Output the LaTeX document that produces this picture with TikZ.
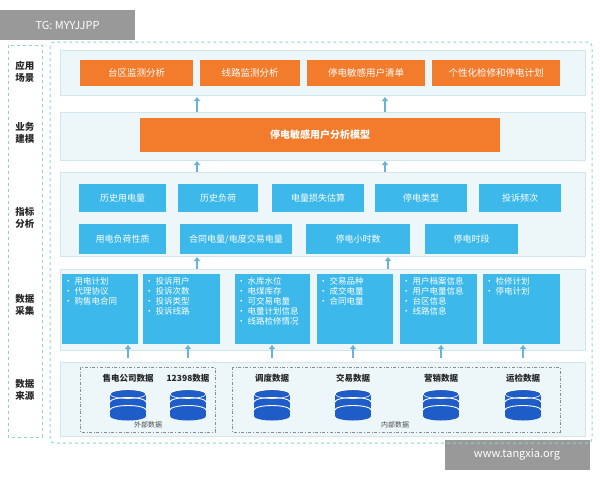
\documentclass[tikz,border=0pt]{standalone}
\usepackage{fontspec}
\setmainfont{Noto Sans CJK SC}
\usetikzlibrary{arrows.meta}
\definecolor{org}{HTML}{F27B2C}
\definecolor{blu}{HTML}{3CB8EA}
\definecolor{pan}{HTML}{EDF6F8}
\definecolor{panb}{HTML}{D2E7EC}
\definecolor{teal}{HTML}{8DD3D3}
\definecolor{dbb}{HTML}{1E5CC8}
\definecolor{arr}{HTML}{6AB2D8}
\begin{document}
\begin{tikzpicture}[x=1pt,y=-1pt,
 panel/.style={draw=panb,fill=pan},
 obox/.style={draw=none,fill=org,text=white,font=\fontsize{9.5}{10}\selectfont},
 bbox/.style={draw=none,fill=blu,text=white,font=\fontsize{9}{10}\selectfont},
 lbl/.style={font=\fontsize{9.5}{12}\selectfont\bfseries,align=center,text=black!85},
 up/.style={-{Triangle[width=6pt,length=4pt]},arr,line width=1.6pt},
 db/.style={font=\fontsize{8.5}{10}\selectfont\bfseries,text=black!85}]
\useasboundingbox (0,0) rectangle (600,480);
% watermarks
\node[fill=black!40,text=white,minimum width=135,minimum height=30,inner sep=0,font=\fontsize{11}{12}\selectfont] (wm1) at (67.5,25) {TG: MYYJJPP};
\node[fill=black!40,text=white,minimum width=145,minimum height=30,inner sep=0,font=\fontsize{11}{12}\selectfont] (wm2) at (517,455) {www.tangxia.org};
% frames
\draw[teal,dashed] (8,45) rectangle (42,437);
\draw[teal,dashed,line width=1pt,rounded corners=4] (50,42) rectangle (592,443);
\node[lbl] (l1) at (25,72) {应用\\场景};
\node[lbl] (l2) at (25,133) {业务\\建模};
\node[lbl] (l3) at (25,218) {指标\\分析};
\node[lbl] (l4) at (25,305) {数据\\采集};
\node[lbl] (l5) at (25,390) {数据\\来源};
% layer 1
\draw[panel] (60,50) rectangle (585,95);
\foreach \n/\a/\b/\t in {o1/80/193/台区监测分析,o2/200/300/线路监测分析,o3/307/425/停电敏感用户清单,o4/432/560/个性化检修和停电计划}
 \node[obox,minimum width=\b-\a,minimum height=26,inner sep=0] (\n) at ({(\a+\b)/2},73) {\t};
% layer 2
\draw[panel] (60,112) rectangle (585,160);
\node[obox,minimum width=360,minimum height=34,inner sep=0,font=\fontsize{10}{12}\selectfont\bfseries] (model) at (320,135) {停电敏感用户分析模型};
\coordinate (a1) at (197,112); \coordinate (a1t) at (197,97);
\coordinate (a2) at (385,112); \coordinate (a2t) at (385,97);
\draw[up] (a1) -- (a1t); \draw[up] (a2) -- (a2t);
\coordinate (b1) at (197,172); \coordinate (b1t) at (197,161);
\coordinate (b2) at (385,172); \coordinate (b2t) at (385,161);
\draw[up] (b1) -- (b1t); \draw[up] (b2) -- (b2t);
% layer 3
\draw[panel] (60,172) rectangle (585,256);
\foreach \n/\a/\b/\t in {i1/79/166/历史用电量,i2/178/258/历史负荷,i3/272/364/电量损失估算,i4/375/467/停电类型,i5/479/561/投诉频次}
 \node[bbox,minimum width=\b-\a,minimum height=28,inner sep=0] (\n) at ({(\a+\b)/2},198) {\t};
\foreach \n/\a/\b/\t in {j1/79/166/用电负荷性质,j2/180/292/{合同电量/电度交易电量},j3/306/410/停电小时数,j4/425/518/停电时段}
 \node[bbox,minimum width=\b-\a,minimum height=30,inner sep=0] (\n) at ({(\a+\b)/2},239) {\t};
\coordinate (c1) at (197,269); \coordinate (c1t) at (197,257);
\coordinate (c2) at (388,269); \coordinate (c2t) at (388,257);
\draw[up] (c1) -- (c1t); \draw[up] (c2) -- (c2t);
% layer 4
\draw[panel] (60,269) rectangle (585,350);
\foreach \n/\a/\b/\t in {d1/62/138/{• 用电计划\\• 代理协议\\• 购售电合同},d2/143/220/{• 投诉用户\\• 投诉次数\\• 投诉类型\\• 投诉线路},d3/235/310/{• 水库水位\\• 电煤库存\\• 可交易电量\\• 电量计划信息\\• 线路检修情况},d4/317/393/{• 交易品种\\• 成交电量\\• 合同电量},d5/400/477/{• 用户档案信息\\• 用户电量信息\\• 台区信息\\• 线路信息},d6/483/560/{• 检修计划\\• 停电计划}}{
 \fill[blu] (\a,274) rectangle (\b,344);
 \node[anchor=north west,text=white,align=left,inner sep=0,font=\fontsize{8.5}{10}\selectfont] (\n) at (\a+2,277) {\t};}
% sources
\draw[panel] (60,362) rectangle (585,436);
\draw[black!45,dash dot] (80,367) rectangle (215,432);
\draw[black!45,dash dot] (232,367) rectangle (560,432);
\node[font=\fontsize{7}{8}\selectfont,text=black!70] (ext) at (148,425) {外部数据};
\node[font=\fontsize{7}{8}\selectfont,text=black!70] (int) at (395,425) {内部数据};
\foreach \n/\x/\t in {s1/128/售电公司数据,s2/188/12398数据,s3/272/调度数据,s4/353/交易数据,s5/441/营销数据,s6/523/运检数据}{
 \node[db] (\n) at (\x,378) {\t};
 \foreach \k in {0,1,2}{
  \fill[dbb] (\x-18,{394+\k*8}) rectangle (\x+18,{400+\k*8});
  \fill[dbb] (\x,{400+\k*8}) ellipse (18 and 4.5);
  \fill[dbb] (\x,{394+\k*8}) ellipse (18 and 4.5);
  \draw[white,line width=0.9pt] (\x-18,{394+\k*8}) arc[start angle=180,end angle=360,x radius=18,y radius=4.5];
 }
 \draw[white,line width=0.6pt] (\x,394) ellipse (18 and 4.5);
}
\foreach \x in {128,188,272,353,441,523}
 \draw[up] (\x,358) -- (\x,345);
\end{tikzpicture}
\end{document}
